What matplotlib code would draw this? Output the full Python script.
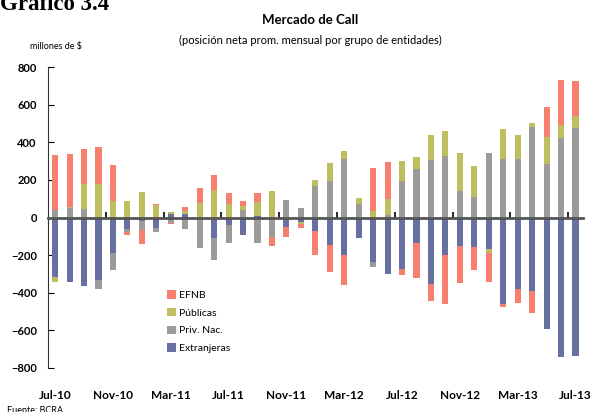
import numpy as np
import matplotlib.pyplot as plt

plt.rcParams['font.family'] = ['Lato', 'DejaVu Sans']

# monthly data, Jul-10 .. Jul-13 (millones de $)
months = ['Jul-10', 'Ago-10', 'Sep-10', 'Oct-10', 'Nov-10', 'Dic-10', 'Ene-11', 'Feb-11',
          'Mar-11', 'Abr-11', 'May-11', 'Jun-11', 'Jul-11', 'Ago-11', 'Sep-11', 'Oct-11',
          'Nov-11', 'Dic-11', 'Ene-12', 'Feb-12', 'Mar-12', 'Abr-12', 'May-12', 'Jun-12',
          'Jul-12', 'Ago-12', 'Sep-12', 'Oct-12', 'Nov-12', 'Dic-12', 'Ene-13', 'Feb-13',
          'Mar-13', 'Abr-13', 'May-13', 'Jun-13', 'Jul-13']
tick_labels = ['Jul-10', 'Nov-10', 'Mar-11', 'Jul-11', 'Nov-11', 'Mar-12',
               'Jul-12', 'Nov-12', 'Mar-13', 'Jul-13']

extranjeras = [-318, -343, -364, -332, -188, -60, -20, -55, 18, 18, 0, -108, -39,
               -92, 9, 0, -50, -23, -71, -146, -199, -108, -236, -300, -274, -135,
               -354, -199, -151, -156, -167, -460, -380, -391, -594, -743, -738]
priv_nac = [41, 50, 44, -48, -91, -16, -46, -21, -28, -60, -162, -118, -96,
            41, -135, -103, 92, 50, 169, 194, 311, 71, -27, 12, 194, 259,
            308, 329, 140, 110, 345, 313, 313, 482, 286, 425, 477]
publicas = [-25, 7, 135, 180, 87, 87, 135, 66, 10, 16, 76, 148, 71,
            21, 75, 140, 0, -11, 30, 96, 43, 32, 34, 86, 106, 64,
            133, 133, 205, 166, -21, 160, 128, 23, 144, 69, 65]
efnb = [291, 281, 184, 195, 192, -16, -75, 5, -5, 23, 80, 78, 59,
        25, 46, -48, -53, -21, -128, -144, -160, 0, 229, 197, -32, -187,
        -90, -261, -197, -123, -155, -16, -75, -117, 160, 240, 187]

series = [('Extranjeras', extranjeras, '#6770A0'),
          ('Priv. Nac.', priv_nac, '#9B9B9B'),
          ('Públicas', publicas, '#BDBE5E'),
          ('EFNB', efnb, '#F67F70')]

x = np.arange(len(months))

fig = plt.figure(figsize=(5.91, 4.12), dpi=100)
ax = fig.add_axes([0.081, 0.107, 0.905, 0.730])

pos = np.zeros(len(x))
neg = np.zeros(len(x))
handles = {}
for name, vals, col in series:
    v = np.array(vals, dtype=float)
    p = np.where(v > 0, v, 0)
    n = np.where(v < 0, v, 0)
    b = ax.bar(x, p, 0.42, bottom=pos, color=col, label=name, zorder=2)
    ax.bar(x, n, 0.42, bottom=neg, color=col, zorder=2)
    pos += p
    neg += n
    handles[name] = b

ax.set_xlim(-0.5, 36.5)
ax.set_ylim(-800, 800)
ax.set_yticks(range(-800, 801, 200))
ax.tick_params(axis='y', direction='in', length=4, width=0.8, labelsize=8, pad=8)
for t in ax.get_yticklabels():
    t.set_fontweight('bold')

for s in ['top', 'right']:
    ax.spines[s].set_visible(False)
ax.spines['left'].set_color('#333333')
ax.spines['left'].set_linewidth(0.8)
ax.spines['bottom'].set_position(('data', 0))
ax.spines['bottom'].set_color('#555555')
ax.spines['bottom'].set_linewidth(2)
ax.spines['bottom'].set_zorder(3)
ax.set_xticks(np.arange(3.5, 36, 4))
ax.set_xticklabels([])
ax.tick_params(axis='x', direction='in', length=4, width=1.2, color='black')

secax = ax.secondary_xaxis(0.0)
secax.set_xticks(x[::4])
secax.set_xticklabels(tick_labels, fontweight='bold', fontsize=8.5)
secax.tick_params(length=0, pad=16)
secax.spines['bottom'].set_visible(False)

order = ['EFNB', 'Públicas', 'Priv. Nac.', 'Extranjeras']
ax.legend([handles[k] for k in order], order, loc='upper left',
          bbox_to_anchor=(0.205, 0.29), frameon=False, fontsize=7.5,
          handlelength=0.9, handleheight=0.9, handletextpad=0.3, labelspacing=0.75)

fig.text(0.525, 0.952, 'Mercado de Call', ha='center', va='center',
         fontsize=9.5, fontweight='bold')
fig.text(0.525, 0.902, '(posición neta prom. mensual por grupo de entidades)',
         ha='center', va='center', fontsize=8)
fig.text(0.095, 0.887, 'millones de $', ha='center', va='center', fontsize=6.5)
fig.text(0.0, 0.976, 'Gráfico 3.4', ha='left', va='baseline', fontsize=16.5,
         fontweight='bold', family='Liberation Serif')
fig.text(0.012, 0.003, 'Fuente: BCRA', ha='left', va='center', fontsize=6.5)

fig.savefig('out.png', dpi=100)
